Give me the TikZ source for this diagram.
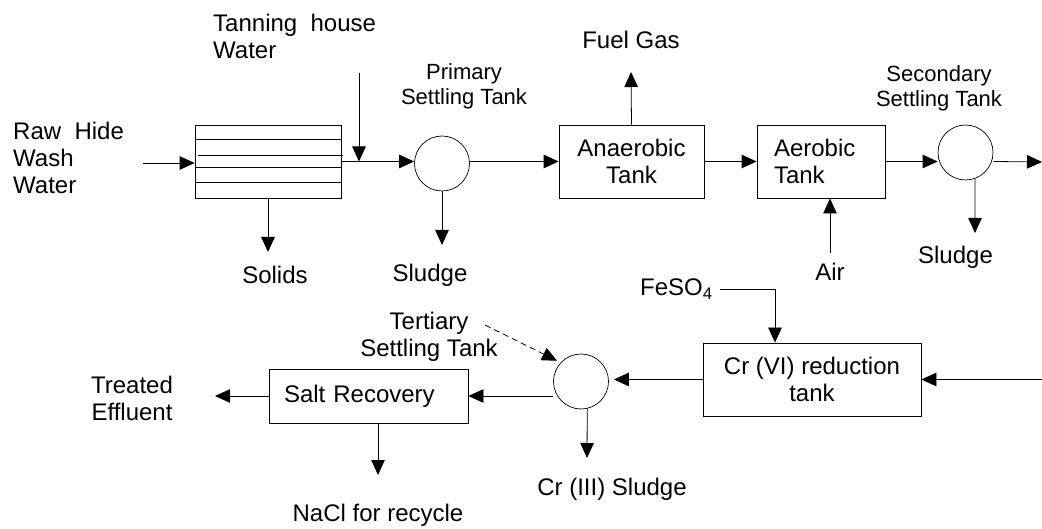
\documentclass[tikz,border=0pt]{standalone}
\usepackage{fontspec}
\setmainfont{Liberation Sans}
\usetikzlibrary{arrows.meta, positioning}

\begin{document}
\begin{tikzpicture}[
  x=1pt, y=-1pt,
  font=\fontsize{24}{27}\selectfont,
  tank/.style={rectangle, draw, line width=0.8pt, minimum height=73pt, inner sep=3pt, align=center},
  settler/.style={circle, draw, line width=0.7pt, minimum size=55pt, inner sep=0pt},
  lbl/.style={align=center, inner sep=0pt},
  lblsmall/.style={font=\fontsize{22}{25}\selectfont},
  flow/.style={->, line width=0.8pt},
  >={Triangle[length=15pt, width=13.5pt]}
]
  \useasboundingbox (0,0) rectangle (1042,529);

  % top row
  \node[tank, minimum width=146pt] (scr) at (268,161.5) {};
  \foreach \yy in {139,167,182}
    \draw[line width=0.8pt] (195,\yy) -- (341,\yy);
  \draw[line width=0.8pt] (198,155) -- (343,155);
  \node[settler] (pst) at (442,163.5) {};
  \node[tank, minimum width=145pt] (ana) at (631.5,161.5) {Anaerobic\\Tank};
  \node[tank, minimum width=128pt, inner xsep=17pt, text width=94pt, align=left] (aer) at (821,161.5) {Aerobic\\Tank};
  \node[settler] (sst) at (965.5,152.5) {};

  % bottom row
  \node[tank, minimum width=218pt] (cr) at (812,379.5) {Cr (VI) reduction\\tank};
  \node[settler] (tst) at (581,381.5) {};
  \node[tank, minimum width=199pt, minimum height=54pt, inner xsep=15pt, text width=169pt, align=left] (salt) at (368.5,396) {Salt Recovery};

  % labels
  \node[lbl, anchor=west, align=left] (rawlbl) at (13,158) {Raw\ \ Hide\\Wash\\Water};
  \node[lbl, anchor=west, align=left] (tanlbl) at (213,36) {Tanning\ \ house\\Water};
  \node[lbl, lblsmall] (pstlbl) at (464,86.5) {Primary\\Settling Tank};
  \node[lbl] (fuellbl) at (631,40) {Fuel Gas};
  \node[lbl, lblsmall] (sstlbl) at (939,88) {Secondary\\Settling Tank};
  \node[lbl] (solidlbl) at (275,275) {Solids};
  \node[lbl] (pslbl) at (430,275) {Sludge};
  \node[lbl] (airlbl) at (830,272) {Air};
  \node[lbl] (sslbl) at (955.5,257.5) {Sludge};
  \node[lbl, anchor=base west] (felbl) at (640,296) {FeSO\textsubscript{4}};
  \node[lbl] (tstlbl) at (429,336.5) {Tertiary\\Settling Tank};
  \node[lbl] (efflbl) at (132,398) {Treated\\Effluent};
  \node[lbl] (nacllbl) at (378,515) {NaCl for recycle};
  \node[lbl] (crsllbl) at (612,489) {Cr (III) Sludge};

  % free ends
  \coordinate (rawin) at (143,163);
  \coordinate (tanin) at (359,73);
  \coordinate (solout) at (268,252);
  \coordinate (psout) at (442,245);
  \coordinate (fuelout) at (631,72);
  \coordinate (airin) at (830,253);
  \coordinate (ssout) at (975,233);
  \coordinate (secout) at (1042,162);
  \coordinate (crin) at (1042,379.5);
  \coordinate (fekink) at (775,289);
  \coordinate (tdash) at (485,325);
  \coordinate (crout) at (587,458);
  \coordinate (effout) at (215,396);
  \coordinate (naclout) at (378,475);

  \draw[flow] (rawin) -- (rawin -| scr.west);
  \draw[flow] (tanin) -- (tanin |- scr.east);
  \draw[flow] (scr.east) -- (scr.east -| pst.west);
  \draw[flow] (scr.south) -- (solout);
  \draw[flow] (pst.south) -- (psout);
  \draw[flow] (pst.east |- ana.west) -- (ana.west);
  \draw[flow] (ana.north) -- (fuelout);
  \draw[flow] (ana.east) -- (aer.west);
  \draw[flow] (airin) -- (airin |- aer.south);
  \draw[flow] (aer.east) -- (aer.east -| sst.west);
  \draw[flow] (sst.east |- aer.east) -- (secout);
  \draw[flow] (sst.-70) -- (ssout);

  \draw[flow] (crin) -- (cr.east);
  \draw[flow, shorten <=7pt] (felbl.east |- fekink) -- (fekink) -- (fekink |- cr.north);
  \draw[flow, shorten >=5pt] (cr.west) -- (cr.west -| tst.east);
  \draw[flow, dash pattern=on 6pt off 4pt, shorten >=4pt] (tdash) -- (tst.137);
  \draw[flow] (tst.-77) -- (crout);
  \draw[flow] (tst.west |- salt.east) -- (salt.east);
  \draw[flow] (salt.west) -- (effout);
  \draw[flow] (naclout |- salt.south) -- (naclout);
\end{tikzpicture}
\end{document}
